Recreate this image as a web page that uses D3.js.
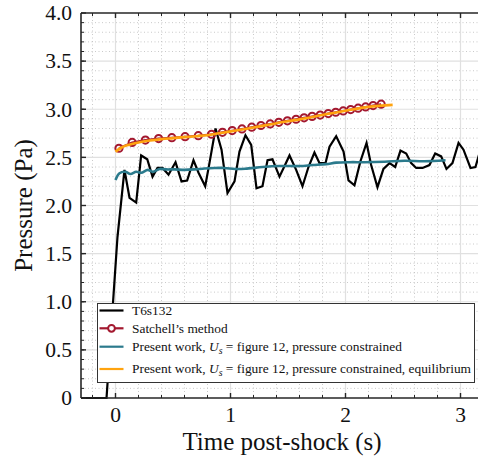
<!DOCTYPE html>
<html><head><meta charset="utf-8">
<script src="https://cdn.jsdelivr.net/npm/d3@7"></script>
<style>
body{margin:0;background:#fff;}
svg{display:block;}
text{font-family:"Liberation Serif","Times New Roman",Times,serif;}
</style>
</head><body><svg id="c" width="478" height="462"></svg>
<script>
// ---- data ----
const seriesNames = ["T6s132", "Satchell\u2019s method", "Present work, Us = figure 12, pressure constrained", "Present work, Us = figure 12, pressure constrained, equilibrium"];

const expT = [-0.30,-0.078,0.017,0.078,0.122,0.18,0.223,0.276,0.322,0.365,0.409,0.461,0.522,0.574,0.623,0.678,0.722,0.78,0.817,0.87,0.922,0.974,1.035,1.078,1.13,1.18,1.226,1.278,1.322,1.365,1.426,1.47,1.513,1.571,1.626,1.678,1.73,1.774,1.826,1.861,1.919,1.983,2.026,2.078,2.13,2.183,2.223,2.278,2.33,2.383,2.432,2.478,2.528,2.571,2.615,2.67,2.73,2.78,2.832,2.878,2.93,2.983,3.026,3.087,3.13,3.174];
const expP = [0,0,1.67,2.37,2.08,2.03,2.52,2.48,2.30,2.39,2.39,2.32,2.45,2.25,2.26,2.47,2.34,2.20,2.44,2.80,2.58,2.13,2.25,2.56,2.73,2.63,2.18,2.20,2.47,2.48,2.30,2.41,2.52,2.37,2.20,2.40,2.55,2.44,2.44,2.61,2.72,2.56,2.26,2.21,2.46,2.65,2.42,2.19,2.38,2.44,2.40,2.57,2.54,2.44,2.39,2.39,2.42,2.54,2.51,2.38,2.44,2.65,2.58,2.39,2.40,2.58];

const satT = [0.03,0.145,0.26,0.375,0.49,0.605,0.72,0.835,0.93,1.015,1.10,1.185,1.265,1.345,1.42,1.495,1.57,1.64,1.71,1.78,1.85,1.915,1.98,2.045,2.11,2.175,2.24,2.31];
const satP = [2.595,2.655,2.68,2.695,2.705,2.715,2.725,2.74,2.76,2.778,2.796,2.814,2.831,2.848,2.864,2.880,2.896,2.911,2.926,2.940,2.955,2.969,2.983,2.997,3.011,3.024,3.038,3.053];

const pcT = [0,0.035,0.085,0.13,0.18,0.223,0.281,0.325,0.383,0.441,0.513,0.6,0.687,0.774,0.861,0.948,1.04,1.128,1.28,1.426,1.6,1.713,1.832,1.919,2.035,2.165,2.339,2.513,2.687,2.87];
const pcP = [2.265,2.335,2.35,2.327,2.35,2.34,2.37,2.35,2.38,2.375,2.375,2.37,2.375,2.385,2.39,2.39,2.38,2.382,2.40,2.41,2.41,2.42,2.43,2.445,2.45,2.45,2.455,2.465,2.46,2.47];

const eqT = [0,0.05,0.1,0.2,0.3,0.4,0.5,0.6,0.7,0.8,0.9,1.0,1.2,1.4,1.6,1.8,2.0,2.2,2.41];
const eqP = [2.56,2.60,2.625,2.655,2.675,2.69,2.70,2.71,2.72,2.73,2.75,2.77,2.81,2.855,2.895,2.94,2.985,3.025,3.045];

const xTickLabels = [0,1,2,3];
const yTickLabels = [0,0.5,1.0,1.5,2.0,2.5,3.0,3.5,4.0];

const colors = {exp:"#000000", sat:"#a3182f", pc:"#2b7a8c", eq:"#ffa30f"};

// ---- layout ----
const svg = d3.select("#c");
const L=81, T=13, B=398, R=478;
const x = d3.scaleLinear().domain([-0.3,3.35]).range([L, L+3.65*115]);
const y = d3.scaleLinear().domain([0,4]).range([B,T]);

svg.append("defs").append("clipPath").attr("id","clip")
  .append("rect").attr("x",L).attr("y",T-2).attr("width",R-L+30).attr("height",B-T+4);

// grid
const g = svg.append("g");
const xMinor = d3.range(-0.2,3.4,0.2).filter(v=>Math.abs(v-Math.round(v))>1e-6);
const yMinor = d3.range(0.1,4.0,0.1).filter(v=>Math.abs(v*2-Math.round(v*2))>1e-6);
g.selectAll(".xm").data(xMinor).enter().append("line")
  .attr("x1",d=>x(d)).attr("x2",d=>x(d)).attr("y1",T).attr("y2",B)
  .attr("stroke","#bdbdbd").attr("stroke-width",0.8).attr("stroke-dasharray","1,2.5");
g.selectAll(".ym").data(yMinor).enter().append("line")
  .attr("x1",L).attr("x2",R).attr("y1",d=>y(d)).attr("y2",d=>y(d))
  .attr("stroke","#bdbdbd").attr("stroke-width",0.8).attr("stroke-dasharray","1,2.5");
g.selectAll(".xM").data(xTickLabels).enter().append("line")
  .attr("x1",d=>x(d)).attr("x2",d=>x(d)).attr("y1",T).attr("y2",B)
  .attr("stroke","#e0e0e0").attr("stroke-width",1.2);
g.selectAll(".yM").data(yTickLabels.slice(1,-1)).enter().append("line")
  .attr("x1",L).attr("x2",R).attr("y1",d=>y(d)).attr("y2",d=>y(d))
  .attr("stroke","#e0e0e0").attr("stroke-width",1.2);

// data
const dg = svg.append("g").attr("clip-path","url(#clip)");
const zip = (a,b)=>a.map((v,i)=>[v,b[i]]);
const lineLin = d3.line().x(d=>x(d[0])).y(d=>y(d[1]));
const lineSm = d3.line().x(d=>x(d[0])).y(d=>y(d[1])).curve(d3.curveCatmullRom.alpha(0.5));

dg.append("path").datum(zip(expT,expP)).attr("d",lineLin)
  .attr("fill","none").attr("stroke",colors.exp).attr("stroke-width",2.2);
dg.append("path").datum(zip(pcT,pcP)).attr("d",lineSm)
  .attr("fill","none").attr("stroke",colors.pc).attr("stroke-width",2.6);
dg.append("path").datum(zip(satT,satP)).attr("d",lineLin)
  .attr("fill","none").attr("stroke",colors.sat).attr("stroke-width",2);
dg.selectAll(".sc").data(zip(satT,satP)).enter().append("circle")
  .attr("cx",d=>x(d[0])).attr("cy",d=>y(d[1])).attr("r",3.6)
  .attr("fill","none").attr("stroke",colors.sat).attr("stroke-width",2);
dg.append("path").datum(zip(eqT,eqP)).attr("d",lineSm)
  .attr("fill","none").attr("stroke",colors.eq).attr("stroke-width",2.6);

// axes
const ax = svg.append("g");
const axisColor = "#262626";
ax.append("line").attr("x1",L).attr("x2",L).attr("y1",T).attr("y2",B).attr("stroke",axisColor).attr("stroke-width",1.6);
ax.append("line").attr("x1",L).attr("x2",R).attr("y1",T).attr("y2",T).attr("stroke",axisColor).attr("stroke-width",1.6);
ax.append("line").attr("x1",L).attr("x2",R).attr("y1",B).attr("y2",B).attr("stroke",axisColor).attr("stroke-width",1.6);

d3.range(-0.2,3.4,0.2).forEach(v=>{
  ax.append("line").attr("x1",x(v)).attr("x2",x(v)).attr("y1",B).attr("y2",B-3).attr("stroke",axisColor).attr("stroke-width",1);
  ax.append("line").attr("x1",x(v)).attr("x2",x(v)).attr("y1",T).attr("y2",T+3).attr("stroke",axisColor).attr("stroke-width",1);
});
xTickLabels.forEach(v=>{
  ax.append("line").attr("x1",x(v)).attr("x2",x(v)).attr("y1",B).attr("y2",B-5).attr("stroke",axisColor).attr("stroke-width",1.4);
  ax.append("line").attr("x1",x(v)).attr("x2",x(v)).attr("y1",T).attr("y2",T+5).attr("stroke",axisColor).attr("stroke-width",1.4);
});
d3.range(0.1,4.0,0.1).forEach(v=>{
  ax.append("line").attr("x1",L).attr("x2",L+3).attr("y1",y(v)).attr("y2",y(v)).attr("stroke",axisColor).attr("stroke-width",1);
});
yTickLabels.forEach(v=>{
  ax.append("line").attr("x1",L).attr("x2",L+5).attr("y1",y(v)).attr("y2",y(v)).attr("stroke",axisColor).attr("stroke-width",1.4);
});

ax.selectAll(".xl").data(xTickLabels).enter().append("text")
  .attr("x",d=>x(d)).attr("y",B+24).attr("text-anchor","middle")
  .attr("font-size",21.5).attr("fill","#111").text(d=>d);
ax.selectAll(".yl").data(yTickLabels).enter().append("text")
  .attr("x",L-9).attr("y",d=>y(d)+7.3).attr("text-anchor","end")
  .attr("font-size",21.5).attr("fill","#111").text(d=>d===0?"0":d.toFixed(1));

svg.append("text").attr("x",282).attr("y",450).attr("text-anchor","middle")
  .attr("font-size",25).attr("fill","#111").text("Time post-shock (s)");
svg.append("text").attr("transform",`translate(32,${(T+B)/2}) rotate(-90)`).attr("text-anchor","middle")
  .attr("font-size",25).attr("fill","#111").text("Pressure (Pa)");

// legend
const lg = svg.append("g");
lg.append("rect").attr("x",97.5).attr("y",303.5).attr("width",377).attr("height",79)
  .attr("fill","#fff").attr("stroke","#333").attr("stroke-width",1);
const rows = [
  {key:"exp", y:310.5},
  {key:"sat", y:328.3},
  {key:"pc", y:346.7},
  {key:"eq", y:369}
];
rows.forEach((r,i)=>{
  lg.append("line").attr("x1",99.5).attr("x2",123.5).attr("y1",r.y).attr("y2",r.y)
    .attr("stroke",colors[r.key]).attr("stroke-width",2.2);
  if(r.key==="sat"){
    lg.append("circle").attr("cx",111.5).attr("cy",r.y).attr("r",3.4)
      .attr("fill","#fff").attr("stroke",colors.sat).attr("stroke-width",2);
  }
  const t = lg.append("text").attr("x",132).attr("y",r.y+4.4).attr("font-size",13.4).attr("fill","#111");
  if(i<2){ t.text(seriesNames[i]); }
  else {
    t.append("tspan").text("Present work, ");
    t.append("tspan").attr("font-style","italic").text("U");
    t.append("tspan").attr("font-style","italic").attr("font-size",9.8).attr("dy",3).text("s");
    t.append("tspan").attr("dy",-3).text(i===2 ? " = figure 12, pressure constrained" : " = figure 12, pressure constrained, equilibrium");
  }
});
</script>
</body></html>
